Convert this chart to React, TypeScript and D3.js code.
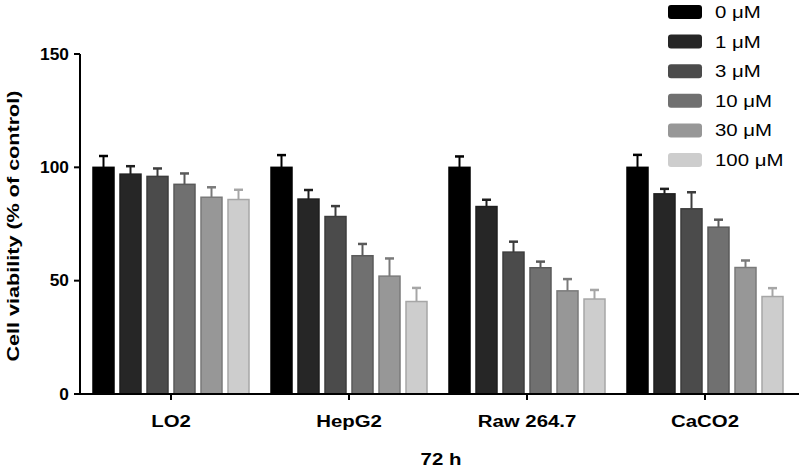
import React from "react";
import * as d3 from "d3";

const groups = ["LO2", "HepG2", "Raw 264.7", "CaCO2"];
const concentrations = ["0 μM", "1 μM", "3 μM", "10 μM", "30 μM", "100 μM"];
const colors = ["#000000", "#262626", "#4b4b4b", "#707070", "#979797", "#cdcdcd"];

// values per group, in order of concentrations
const valLO2 = [100, 97, 96, 92.5, 86.8, 85.8];
const valHepG2 = [100, 86, 78.3, 61, 52, 40.8];
const valRaw = [100, 82.7, 62.6, 55.7, 45.5, 41.9];
const valCaCO2 = [100, 88.3, 81.7, 73.6, 55.8, 43];

const errLO2 = [5, 3.5, 3.5, 4.8, 4.4, 4.3];
const errHepG2 = [5.4, 4, 4.6, 5.2, 7.8, 6];
const errRaw = [4.8, 3, 4.6, 2.7, 5.2, 4];
const errCaCO2 = [5.5, 2.2, 7.3, 3.3, 3.1, 3.7];

const values = [valLO2, valHepG2, valRaw, valCaCO2];
const errors = [errLO2, errHepG2, errRaw, errCaCO2];

const yTicks = [0, 50, 100, 150];

const W = 799;
const H = 471;
const FONT = "'Liberation Sans', Arial, Helvetica, sans-serif";
const SX = 1.2;

export default function App() {
  const axisX = 80;
  const y = d3.scaleLinear().domain([0, 150]).range([394, 54]);
  const x0 = d3.scaleBand().domain(groups).range([82, 794]);
  const x1 = d3
    .scaleBand()
    .domain(concentrations)
    .range([-78, 78])
    .paddingInner(6 / 27)
    .paddingOuter(0);
  const bw = x1.bandwidth();

  return (
    <svg
      width={W}
      height={H}
      style={{ position: "absolute", left: 0, top: 0, background: "#fff" }}
      fontFamily={FONT}
    >
      {/* bars */}
      {groups.map((g, gi) => {
        const cx = (x0(g) as number) + x0.bandwidth() / 2;
        return (
          <g key={g}>
            {concentrations.map((c, ci) => {
              const v = values[gi][ci];
              const e = errors[gi][ci];
              const bx = cx + (x1(c) as number);
              const col = colors[ci];
              const stroke = d3.color(col)!.darker(0.6).formatHex();
              const mid = bx + bw / 2;
              return (
                <g key={c}>
                  <line
                    x1={mid}
                    x2={mid}
                    y1={y(v)}
                    y2={y(v + e)}
                    stroke={stroke}
                    strokeWidth={2}
                  />
                  <line
                    x1={mid - 4.5}
                    x2={mid + 4.5}
                    y1={y(v + e)}
                    y2={y(v + e)}
                    stroke={stroke}
                    strokeWidth={2.5}
                  />
                  <rect
                    x={bx}
                    y={y(v)}
                    width={bw}
                    height={y(0) - y(v)}
                    fill={col}
                    stroke={stroke}
                    strokeWidth={1.5}
                  />
                </g>
              );
            })}
          </g>
        );
      })}

      {/* y axis */}
      <line x1={axisX} x2={axisX} y1={y(150)} y2={y(0)} stroke="#000" strokeWidth={2} />
      {yTicks.map((t) => (
        <g key={t}>
          <line x1={axisX - 6} x2={axisX} y1={y(t)} y2={y(t)} stroke="#000" strokeWidth={2} />
          <text
            transform={`translate(${axisX - 11},${y(t)}) scale(1.05,1)`}
            dy="0.35em"
            textAnchor="end"
            fontSize={16.5}
            fontWeight="bold"
          >
            {t}
          </text>
        </g>
      ))}
      <text
        transform={`translate(13,226) rotate(-90) scale(1.27,1)`}
        textAnchor="middle"
        dy="0.35em"
        fontSize={17}
        fontWeight="bold"
      >
        Cell viability (% of control)
      </text>

      {/* x axis */}
      <line x1={axisX - 1} x2={W} y1={y(0)} y2={y(0)} stroke="#000" strokeWidth={2} />
      {groups.map((g) => {
        const cx = (x0(g) as number) + x0.bandwidth() / 2;
        return (
          <g key={g}>
            <line x1={cx} x2={cx} y1={y(0)} y2={y(0) + 6} stroke="#000" strokeWidth={2} />
            <text
              transform={`translate(${cx},421) scale(${SX},1)`}
              dy="0.35em"
              textAnchor="middle"
              fontSize={17}
              fontWeight="bold"
            >
              {g}
            </text>
          </g>
        );
      })}
      <text
        transform={`translate(441,459) scale(${SX},1)`}
        dy="0.35em"
        textAnchor="middle"
        fontSize={17}
        fontWeight="bold"
      >
        72 h
      </text>

      {/* legend */}
      {concentrations.map((c, i) => {
        const cy = 12 + i * 29.6;
        return (
          <g key={c}>
            <rect x={668} y={cy - 7} width={34} height={14} rx={3} fill={colors[i]} />
            <text transform={`translate(715,${cy}) scale(${SX},1)`} dy="0.35em" fontSize={17}>
              {c}
            </text>
          </g>
        );
      })}
    </svg>
  );
}
